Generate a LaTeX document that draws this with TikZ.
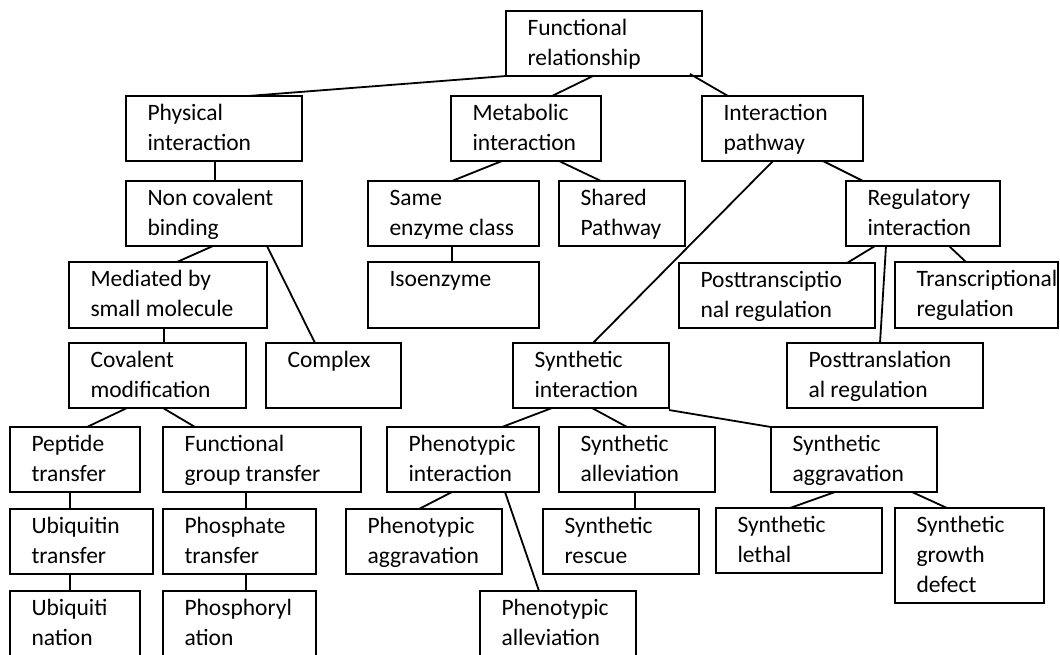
\documentclass[tikz,border=0pt]{standalone}
\usepackage{fontspec}
\setmainfont{Carlito}
\begin{document}
\begin{tikzpicture}[x=1pt,y=-1pt,
  box/.style={draw=black, line width=1.8pt, rectangle, inner sep=0pt, outer sep=0pt, anchor=north west},
  lbl/.style={inner sep=0pt, outer sep=0pt, anchor=base west, font=\fontsize{23.5}{30}\selectfont},
  link/.style={draw=black, line width=1.8pt}]
\path[use as bounding box, clip] (0,0) rectangle (1060,654);
% \bx{name}{left}{top}{width}{height}{lines}
\newcommand\bx[6]{%
  \node[box, minimum width=#4pt, minimum height=#5pt] (#1) at (#2,#3) {};
  \node[lbl] (#1T) at ([xshift=21.5pt, yshift=-24pt]#1.north west)
    {\begin{tabular}[t]{@{}l@{}}#6\end{tabular}};}
% level 0
\bx{fr}{506}{11}{196}{65}{Functional\\relationship}
% level 1
\bx{pi}{126}{96}{176}{65}{Physical\\interaction}
\bx{mi}{451}{96}{150}{65}{Metabolic\\interaction}
\bx{ip}{702}{96}{161}{65}{Interaction\\pathway}
% level 2
\bx{nc}{126}{181}{176}{65}{Non covalent\\binding}
\bx{se}{368}{181}{171}{65}{Same\\enzyme class}
\bx{sp}{559}{181}{126}{65}{Shared\\Pathway}
\bx{ri}{846}{181}{154}{65}{Regulatory\\interaction}
% level 3
\bx{ms}{69}{262}{198}{66}{Mediated by\\small molecule}
\bx{iso}{368}{262}{171}{66}{Isoenzyme}
\bx{ptr}{679}{263}{196}{65}{Posttransciptio\\nal regulation}
\bx{tr}{895}{262}{163}{66}{Transcriptional\\regulation}
% level 4
\bx{cm}{69}{343}{177}{65}{Covalent\\modification}
\bx{cx}{266}{343}{135}{65}{Complex}
\bx{si}{513}{343}{156}{65}{Synthetic\\interaction}
\bx{ptl}{787}{343}{196}{65}{Posttranslation\\al regulation}
% level 5
\bx{pt}{10}{427}{130}{65}{Peptide\\transfer}
\bx{fg}{163}{427}{198}{65}{Functional\\group transfer}
\bx{phi}{387}{427}{152}{65}{Phenotypic\\interaction}
\bx{sa}{559}{427}{156}{65}{Synthetic\\alleviation}
\bx{sag}{771}{427}{166}{65}{Synthetic\\aggravation}
% level 6
\bx{ut}{10}{509}{143}{65}{Ubiquitin\\transfer}
\bx{pht}{163}{509}{153}{65}{Phosphate\\transfer}
\bx{pag}{346}{509}{156}{65}{Phenotypic\\aggravation}
\bx{sr}{543}{509}{156}{65}{Synthetic\\rescue}
\bx{sl}{716}{508}{166}{65}{Synthetic\\lethal}
\bx{sgd}{895}{508}{149}{95}{Synthetic\\growth\\defect}
% level 7 (runs past the lower edge)
\bx{ub}{10}{591}{130}{75}{Ubiquiti\\nation}
\bx{ph}{163}{591}{153}{75}{Phosphoryl\\ation}
\bx{pal}{480}{591}{156}{75}{Phenotypic\\alleviation}
% connectors
\draw[link] (fr.south west) -- ([xshift=122pt]pi.north west);
\draw[link] ([xshift=87pt]fr.south west) -- ([xshift=101pt]mi.north west);
\draw[link] ([xshift=-12pt,yshift=2pt]fr.south east) -- ([xshift=26pt]ip.north west);
\draw[link] ([xshift=89pt]pi.south west) -- ([xshift=89pt]nc.north west);
\draw[link] ([xshift=51pt]mi.south west) -- ([xshift=84pt]se.north west);
\draw[link] ([xshift=108pt]mi.south west) -- ([xshift=42pt]sp.north west);
\draw[link] ([xshift=121pt]ip.south west) -- ([xshift=17pt]ri.north west);
\draw[link] ([xshift=71pt]ip.south west) -- ([xshift=80pt]si.north west);
\draw[link] ([xshift=87pt]nc.south west) -- ([xshift=108pt]ms.north west);
\draw[link] ([xshift=141pt]nc.south west) -- ([xshift=49pt]cx.north west);
\draw[link] ([xshift=84pt]se.south west) -- ([xshift=84pt]iso.north west);
\draw[link] ([xshift=29pt]ri.south west) -- ([xshift=168pt]ptr.north west);
\draw[link] ([xshift=103pt]ri.south west) -- ([xshift=71pt]tr.north west);
\draw[link] ([xshift=40pt]ri.south west) -- ([xshift=93pt]ptl.north west);
\draw[link] ([xshift=95pt]ms.south west) -- ([xshift=95pt]cm.north west);
\draw[link] ([xshift=58pt]cm.south west) -- ([xshift=77pt]pt.north west);
\draw[link] ([xshift=94pt]cm.south west) -- ([xshift=32pt]fg.north west);
\draw[link] ([xshift=39pt]si.south west) -- ([xshift=115pt]phi.north west);
\draw[link] ([xshift=79pt]si.south west) -- ([xshift=68pt]sa.north west);
\draw[link] ([yshift=-2pt]si.south east) -- (sag.north west);
\draw[link] ([xshift=60pt]pt.south west) -- ([xshift=60pt]ut.north west);
\draw[link] ([xshift=60pt]ut.south west) -- ([xshift=60pt]ub.north west);
\draw[link] ([xshift=83pt]fg.south west) -- ([xshift=83pt]pht.north west);
\draw[link] ([xshift=83pt]pht.south west) -- ([xshift=83pt]ph.north west);
\draw[link] ([xshift=65pt]phi.south west) -- ([xshift=73pt]pag.north west);
\draw[link] ([xshift=118pt]phi.south west) -- ([xshift=59pt]pal.north west);
\draw[link] ([xshift=76pt]sa.south west) -- ([xshift=92pt]sr.north west);
\draw[link] ([xshift=64pt]sag.south west) -- ([xshift=74pt]sl.north west);
\draw[link] ([xshift=141pt]sag.south west) -- ([xshift=52pt]sgd.north west);
\end{tikzpicture}
\end{document}
